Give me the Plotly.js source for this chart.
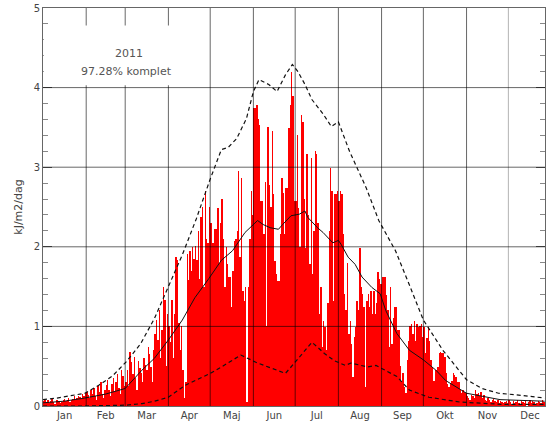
<!DOCTYPE html>
<html>
<head>
<meta charset="utf-8">
<script src="https://cdn.plot.ly/plotly-3.0.1.min.js"></script>
<style>html,body{margin:0;padding:0;background:#fff;}#chart{width:547px;height:425px;}</style>
</head>
<body>
<div id="chart"></div>
<script>
// Daily values (kJ/m2/dag), 2011
const jan = [0.06,0.08,0.05,0.07,0.04,0.06,0.09,0.05,0.03,0.07,0.08,0.06,0.04,0.05,0.07,0.09,0.06,0.08,0.1,0.05,0.07,0.09,0.12,0.08,0.1,0.13,0.11,0.09,0.15,0.12,0.16];
const feb = [0.18,0.14,0.1,0.2,0.15,0.22,0.12,0.08,0.25,0.18,0.3,0.15,0.1,0.2,0.26,0.33,0.2,0.12,0.28,0.35,0.18,0.3,0.4,0.22,0.15,0.45,0.38,0.25];
const mar = [0.3,0.45,0.25,0.68,0.55,0.4,0.62,0.35,0.2,0.56,0.48,0.41,0.3,0.6,0.52,0.45,0.74,0.65,0.49,0.3,0.7,0.9,1.08,0.83,1.2,0.6,0.95,1.49,1.33,0.5,1.16];
const apr = [1.0,0.8,1.33,0.6,1.16,1.87,1.83,1.04,0.7,1.0,0.45,0.1,0.3,1.91,1.58,1.95,1.7,2.0,1.85,2.01,1.83,2.2,1.6,2.37,2.5,1.5,2.7,2.1,2.05,2.5];
const may = [2.3,2.05,2.05,2.22,2.22,2.49,1.8,2.3,2.6,2.1,1.49,2.0,1.78,1.62,1.62,1.24,1.7,2.07,2.1,2.2,2.95,1.87,2.87,1.45,1.32,1.5,0.05,1.49,2.1,2.7,2.4];
const jun = [3.74,3.74,3.78,3.6,3.53,2.57,2.57,2.16,2.82,1.0,3.51,2.78,2.5,3.45,2.66,1.82,1.66,1.57,1.57,2.16,2.87,2.68,2.16,2.74,2.74,3.49,3.78,4.2,3.9,2.57];
const jul = [2.57,3.4,2.49,2.0,3.66,3.57,2.6,1.99,3.16,2.4,1.78,3.12,1.66,2.2,3.2,3.16,2.3,1.16,1.5,0.74,1.07,0.99,0.7,1.3,2.2,2.99,2.7,1.32,2.66,2.66,2.7];
const aug = [2.57,2.7,2.66,2.16,1.41,1.2,1.8,0.91,1.07,0.78,0.37,0.87,0.99,1.32,1.2,1.99,1.49,1.41,1.24,0.24,1.32,1.41,1.24,1.45,1.16,1.45,1.16,1.3,1.68,1.6,1.53];
const sep = [1.62,1.62,1.62,1.4,1.2,0.74,1.49,0.78,1.1,1.24,1.24,0.95,0.95,0.5,0.32,0.41,0.24,0.16,0.58,0.82,1.0,1.03,0.91,1.07,0.82,1.03,0.99,1.0,1.03,0.87];
const oct = [0.99,0.66,0.85,0.99,0.82,0.58,0.49,0.32,0.45,0.45,0.49,0.66,0.68,0.66,0.66,0.62,0.41,0.28,0.24,0.28,0.32,0.41,0.39,0.37,0.3,0.3,0.2,0.16,0.2,0.18,0.16];
const nov = [0.12,0.1,0.08,0.14,0.12,0.1,0.2,0.15,0.16,0.12,0.18,0.1,0.14,0.08,0.06,0.1,0.07,0.05,0.08,0.09,0.06,0.05,0.07,0.04,0.06,0.05,0.04,0.05,0.06,0.04];
const dec = [0.07,0.05,0.03,0.06,0.04,0.05,0.07,0.04,0.03,0.06,0.05,0.04,0.06,0.0,0.05,0.07,0.04,0.06,0.05,0.03,0.04,0.06,0.05,0.04,0.07,0.05,0.06,0.04,0.05,0.06,0.04];

// Reference curves (day of year, value)
const maxDays = [0,10,20,30,40,50,60,70,80,90,100,110,120,128,133,139,146,151,155,162,168,174,179,183,188,193,201,207,212,220,232,241,253,263,273,287,297,304,315,327,340,360];
const maxVals = [0.08,0.1,0.13,0.16,0.26,0.38,0.56,0.78,1.1,1.5,1.9,2.35,2.85,3.22,3.25,3.36,3.61,3.95,4.1,4.04,3.95,4.16,4.29,4.2,4.04,3.85,3.67,3.51,3.57,3.2,2.74,2.33,1.95,1.52,1.08,0.7,0.48,0.33,0.22,0.16,0.14,0.1];
const meanDays = [0,15,30,45,59,71,80,90,100,109,119,128,136,145,154,158,163,169,172,178,184,188,190,197,201,208,212,214,219,224,229,236,242,246,254,263,273,282,289,304,328,360];
const meanVals = [0.04,0.06,0.1,0.15,0.22,0.45,0.6,0.83,1.08,1.36,1.6,1.83,1.95,2.18,2.33,2.28,2.24,2.22,2.28,2.39,2.41,2.45,2.37,2.24,2.18,2.05,2.08,2.03,1.87,1.78,1.62,1.49,1.41,1.2,0.91,0.7,0.58,0.45,0.32,0.16,0.08,0.06];
const minDays = [0,30,59,71,80,90,102,110,119,128,142,154,162,174,178,186,193,197,202,209,217,221,233,239,254,263,277,299,330,360];
const minVals = [0.0,0.0,0.01,0.03,0.06,0.11,0.26,0.33,0.4,0.49,0.64,0.54,0.49,0.41,0.49,0.66,0.8,0.74,0.66,0.57,0.51,0.54,0.49,0.51,0.37,0.2,0.11,0.05,0.02,0.02];

const monthLabels = ['Jan','Feb','Mar','Apr','Maj','Jun','Jul','Aug','Sep','Okt','Nov','Dec'];
const monthLengths = [31,28,31,30,31,30,31,31,30,31,30,31];
const yGridVals = [1,2,3,4];
const yearText = '2011';
const completeText = '97.28% komplet';

const daily = [].concat(jan,feb,mar,apr,may,jun,jul,aug,sep,oct,nov,dec);
const dayX = daily.map((v,i)=>i+0.5);

const monthStarts = [];
const monthMids = [];
let acc = 0;
monthLengths.forEach(len=>{ monthStarts.push(acc); monthMids.push(acc+len/2); acc+=len; });

const gridColor = 'rgba(0,0,0,0.6)';
const shapes = [];
monthStarts.slice(1).forEach(d=>{
  shapes.push({type:'line', xref:'x', yref:'paper', x0:d, x1:d, y0:0, y1:1, layer:'above',
    line:{color: d>=330 ? 'rgba(0,0,0,0.3)' : gridColor, width:1}});
});
yGridVals.forEach(v=>{
  shapes.push({type:'line', xref:'paper', yref:'y', x0:0, x1:1, y0:v, y1:v, layer:'above',
    line:{color:gridColor, width:1}});
});
// white box behind the label text
shapes.push({type:'rect', xref:'x', yref:'y', x0:0.6, x1:100, y0:4.03, y1:4.78, layer:'above',
  fillcolor:'#ffffff', line:{width:0}});

const txtFont = {family:'DejaVu Sans, sans-serif', size:11, color:'#555'};

const traces = [
  {type:'bar', x:dayX, y:daily, width:1, marker:{color:'#ff0000', line:{width:0}}, hoverinfo:'skip'},
  {type:'scatter', mode:'lines', x:maxDays, y:maxVals, line:{color:'#111', width:1.2, dash:'4px,3px'}},
  {type:'scatter', mode:'lines', x:meanDays, y:meanVals, line:{color:'#111', width:1}},
  {type:'scatter', mode:'lines', x:minDays, y:minVals, line:{color:'#111', width:1.2, dash:'4px,3px'}}
];

const layout = {
  width:547, height:425,
  margin:{l:43, r:2, t:8, b:19},
  paper_bgcolor:'#fff', plot_bgcolor:'#fff',
  showlegend:false,
  bargap:0,
  font: txtFont,
  xaxis:{
    range:[0,360.3], showgrid:false, zeroline:false,
    tickvals: monthMids, ticktext: monthLabels, ticks:'',
    tickfont:{family:'DejaVu Sans, sans-serif', size:10, color:'#444'},
    showline:true, linecolor:'#666', linewidth:1, mirror:true
  },
  yaxis:{
    range:[0,5], dtick:1, showgrid:false, zeroline:false,
    ticks:'inside', ticklen:9, tickcolor:'#666', mirror:'ticks',
    minor:{dtick:0.2, ticks:'inside', ticklen:5, tickcolor:'#888'},
    showline:true, linecolor:'#666', linewidth:1,
    tickfont:{family:'DejaVu Sans, sans-serif', size:10, color:'#444'},
    title:{text:'kJ/m2/dag', font:{family:'DejaVu Sans, sans-serif', size:11, color:'#444'}, standoff:8}
  },
  shapes: shapes,
  annotations:[
    {xref:'x', yref:'y', x:62, y:4.43, text:yearText, showarrow:false, font:txtFont},
    {xref:'x', yref:'y', x:60, y:4.2, text:completeText, showarrow:false, font:txtFont}
  ]
};

Plotly.newPlot('chart', traces, layout, {displayModeBar:false, staticPlot:true});
</script>
</body>
</html>
